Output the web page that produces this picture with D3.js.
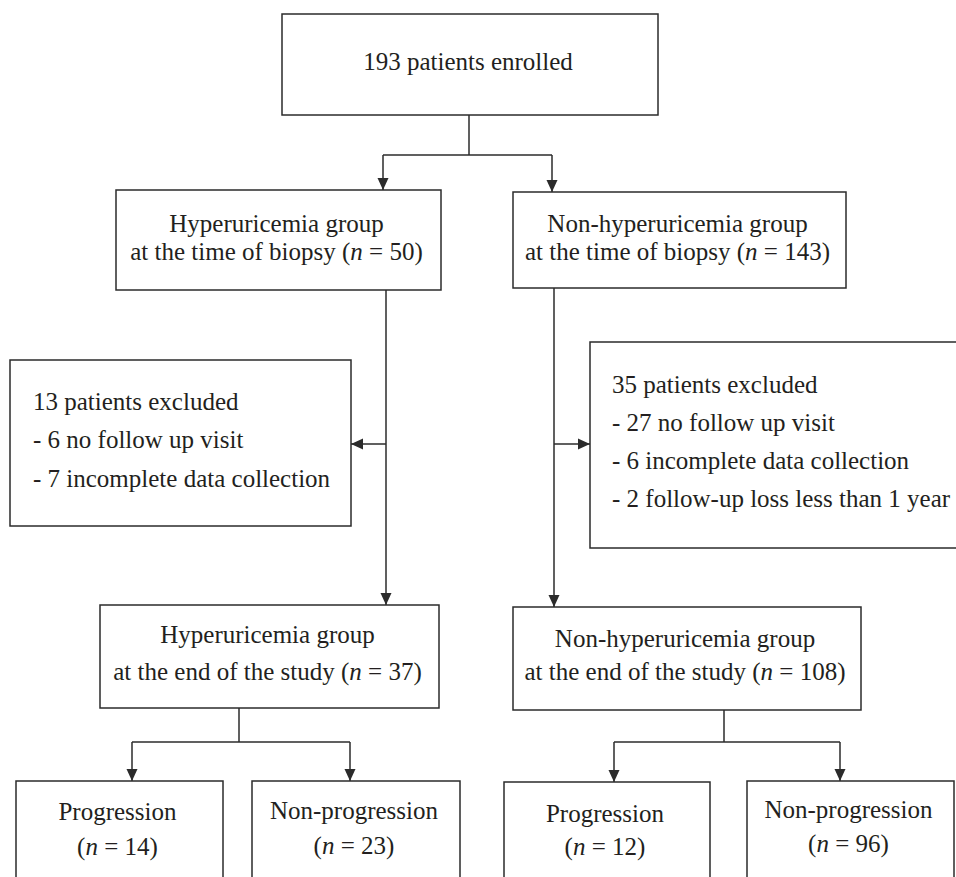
<!DOCTYPE html>
<html>
<head>
  <meta charset="utf-8">
  <script src="https://d3js.org/d3.v7.min.js"></script>
  <title>Patient flow</title>
  <style>
    body { margin: 0; background: #fff; }
    text { font-family: "Liberation Serif", "Times New Roman", serif; fill: #231f20; }
  </style>
</head>
<body>
<script>
// ---- data ----
var enrolledN = 193;
var groups = ["Hyperuricemia group", "Non-hyperuricemia group"];
var biopsyN = [50, 143];
var excludedN = [13, 35];
var exclusionReasons = [
  ["6 no follow up visit", "7 incomplete data collection"],
  ["27 no follow up visit", "6 incomplete data collection", "2 follow-up loss less than 1 year"]
];
var endN = [37, 108];
var outcomes = ["Progression", "Non-progression"];
var outcomeN = [[14, 23], [12, 96]];

// ---- layout (pixels) ----
var W = 956, H = 877;
var fontSize = 25;
var ink = "#2b2b2b";

// each line: array of [text, italic?] pieces
function nLine(prefix, n) {
  return [[prefix + "(", false], ["n", true], [" = " + n + ")", false]];
}

var boxes = [
  { x: 282, y: 14,  w: 376, h: 101, anchor: "middle", base: [70],
    lines: [[[enrolledN + " patients enrolled", false]]] },
  { x: 116, y: 190, w: 325, h: 100, anchor: "middle", base: [232, 260],
    lines: [[[groups[0], false]], nLine("at the time of biopsy ", biopsyN[0])] },
  { x: 513, y: 192, w: 333, h: 96, anchor: "middle", base: [232, 260],
    lines: [[[groups[1], false]], nLine("at the time of biopsy ", biopsyN[1])] },
  { x: 10,  y: 360, w: 341, h: 166, anchor: "start", tx: 33, base: [410, 448, 487],
    lines: [[[excludedN[0] + " patients excluded", false]]].concat(
      exclusionReasons[0].map(function(r) { return [["- " + r, false]]; })) },
  { x: 590, y: 342, w: 400, h: 206, anchor: "start", tx: 612, base: [393, 431, 469, 507],
    lines: [[[excludedN[1] + " patients excluded", false]]].concat(
      exclusionReasons[1].map(function(r) { return [["- " + r, false]]; })) },
  { x: 100, y: 605, w: 339, h: 103, anchor: "middle", base: [643, 680],
    lines: [[[groups[0], false]], nLine("at the end of the study ", endN[0])] },
  { x: 513, y: 607, w: 348, h: 103, anchor: "middle", base: [647, 680],
    lines: [[[groups[1], false]], nLine("at the end of the study ", endN[1])] },
  { x: 16,  y: 781, w: 207, h: 130, anchor: "middle", base: [820, 855],
    lines: [[[outcomes[0], false]], nLine("", outcomeN[0][0])] },
  { x: 252, y: 781, w: 208, h: 130, anchor: "middle", base: [819, 854],
    lines: [[[outcomes[1], false]], nLine("", outcomeN[0][1])] },
  { x: 504, y: 782, w: 206, h: 130, anchor: "middle", base: [822, 855],
    lines: [[[outcomes[0], false]], nLine("", outcomeN[1][0])] },
  { x: 747, y: 781, w: 207, h: 130, anchor: "middle", base: [818, 852],
    lines: [[[outcomes[1], false]], nLine("", outcomeN[1][1])] }
];

// plain connector segments and arrowed segments
var lines = [
  [[469, 115], [469, 155]],
  [[383, 155], [552, 155]],
  [[239, 708], [239, 742]],
  [[132, 742], [350, 742]],
  [[724, 710], [724, 742]],
  [[614, 742], [840, 742]]
];
var arrows = [
  [[383, 155], [383, 190]],
  [[552, 155], [552, 192]],
  [[386, 290], [386, 605]],
  [[386, 444], [351, 444]],
  [[554, 288], [554, 607]],
  [[554, 444], [590, 444]],
  [[132, 742], [132, 781]],
  [[350, 742], [350, 781]],
  [[614, 742], [614, 782]],
  [[840, 742], [840, 781]]
];

var svg = d3.select("body").append("svg")
  .attr("width", W)
  .attr("height", H);

svg.append("defs").append("marker")
  .attr("id", "head")
  .attr("markerUnits", "userSpaceOnUse")
  .attr("viewBox", "0 0 12 12")
  .attr("refX", 12)
  .attr("refY", 6)
  .attr("markerWidth", 12)
  .attr("markerHeight", 12)
  .attr("orient", "auto")
  .append("path")
  .attr("d", "M0,0.5 L12,6 L0,11.5 Z")
  .attr("fill", ink);

var line = d3.line();

svg.selectAll(".conn")
  .data(lines)
  .enter()
  .append("path")
  .attr("class", "conn")
  .attr("d", line)
  .attr("fill", "none")
  .attr("stroke", ink)
  .attr("stroke-width", 1.5);

svg.selectAll(".arrow")
  .data(arrows)
  .enter()
  .append("path")
  .attr("class", "arrow")
  .attr("d", line)
  .attr("fill", "none")
  .attr("stroke", ink)
  .attr("stroke-width", 1.5)
  .attr("marker-end", "url(#head)");

var box = svg.selectAll(".box")
  .data(boxes)
  .enter()
  .append("g")
  .attr("class", "box");

box.append("rect")
  .attr("x", function(d) { return d.x; })
  .attr("y", function(d) { return d.y; })
  .attr("width", function(d) { return d.w; })
  .attr("height", function(d) { return d.h; })
  .attr("fill", "#fff")
  .attr("stroke", ink)
  .attr("stroke-width", 1.5);

box.each(function(d) {
  var g = d3.select(this);
  var tx = d.anchor === "middle" ? d.x + d.w / 2 - 2 : d.tx;
  d.lines.forEach(function(pieces, i) {
    var t = g.append("text")
      .attr("x", tx)
      .attr("y", d.base[i])
      .attr("text-anchor", d.anchor)
      .attr("font-size", fontSize)
      .attr("xml:space", "preserve");
    pieces.forEach(function(p) {
      t.append("tspan")
        .attr("font-style", p[1] ? "italic" : null)
        .text(p[0]);
    });
  });
});
</script>
</body>
</html>
